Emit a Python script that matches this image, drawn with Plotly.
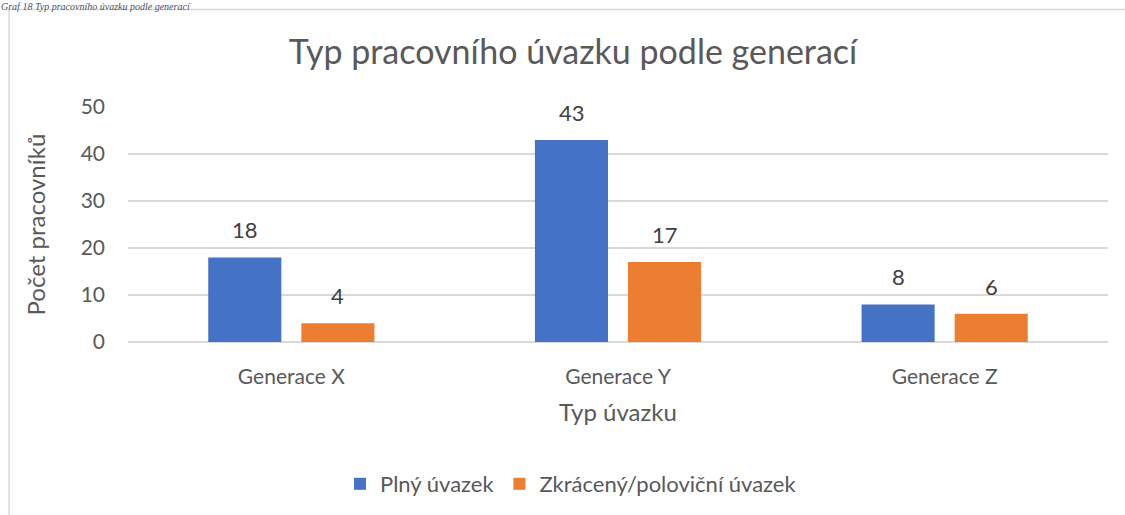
import plotly.graph_objects as go

categories = ["Generace X", "Generace Y", "Generace Z"]
full_time = [18, 43, 8]
part_time = [4, 17, 6]
series_names = ["Plný úvazek", "Zkrácený/poloviční úvazek"]
y_ticks = [0, 10, 20, 30, 40, 50]

BLUE = "#4472C4"
ORANGE = "#ED7D31"
TXT = "#595959"
FONT = "Lato"

W, H = 1125, 515
L, R, T, B = 128, 17, 107, 172
pw, ph = W - L - R, H - T - B

def px_x(x):
    return (x - L) / pw

def px_y(y):
    return (H - B - y) / ph

fig = go.Figure()
fig.add_trace(go.Bar(x=categories, y=full_time, name=series_names[0],
                     marker=dict(color=BLUE, line=dict(width=0))))
fig.add_trace(go.Bar(x=categories, y=part_time, name=series_names[1],
                     marker=dict(color=ORANGE, line=dict(width=0))))

annotations = []
for vals, shift in ((full_time, -46.5), (part_time, 46.5)):
    for c, v in zip(categories, vals):
        annotations.append(dict(x=c, y=v, xref="x", yref="y", text=str(v),
                                showarrow=False, xshift=shift, yshift=12,
                                yanchor="bottom",
                                font=dict(family=FONT, size=22, color="#404040")))

annotations.append(dict(xref="paper", yref="paper", x=0.5, y=px_y(413),
                        text="Typ úvazku", showarrow=False, yanchor="middle",
                        font=dict(family=FONT, size=24, color=TXT)))
annotations.append(dict(xref="paper", yref="paper", x=px_x(35), y=px_y(225),
                        text="Počet pracovníků", showarrow=False, textangle=-90,
                        xanchor="center", yanchor="middle",
                        font=dict(family=FONT, size=24, color=TXT)))
annotations.append(dict(xref="paper", yref="paper", x=px_x(0), y=px_y(0),
                        text="<i>Graf 18 Typ pracovního úvazku podle generací</i>",
                        showarrow=False, xanchor="left", yanchor="top",
                        borderpad=0,
                        font=dict(family="Liberation Serif", size=10, color="#44546A")))

fig.update_layout(
    width=W, height=H,
    margin=dict(l=L, r=R, t=T, b=B, pad=0),
    paper_bgcolor="white", plot_bgcolor="white",
    barmode="group", bargap=0.43, bargroupgap=0.215,
    title=dict(text="Typ pracovního úvazku podle generací",
               x=573 / W, xref="container", xanchor="center",
               y=1 - 52 / H, yref="container", yanchor="middle",
               font=dict(family=FONT, size=34, color=TXT)),
    font=dict(family=FONT, color=TXT),
    showlegend=True,
    legend=dict(orientation="h", x=px_x(571), xanchor="center", y=px_y(484),
                yanchor="middle", font=dict(family=FONT, size=22, color=TXT),
                itemwidth=30, traceorder="normal"),
    annotations=annotations,
    shapes=[dict(type="rect", xref="paper", yref="paper",
                 x0=px_x(9), x1=px_x(1135), y0=px_y(530), y1=px_y(9),
                 line=dict(color="#D9D9D9", width=1.5), layer="below")],
)
fig.update_xaxes(showgrid=False, showline=False, ticks="",
                 tickfont=dict(family=FONT, size=21, color=TXT),
                 ticklabelstandoff=20)
fig.update_yaxes(range=[0, 50], tickvals=y_ticks, showgrid=True,
                 gridcolor="#D9D9D9", gridwidth=1.5, zeroline=True,
                 zerolinecolor="#D9D9D9", zerolinewidth=1.5, showline=False,
                 ticks="", tickfont=dict(family=FONT, size=21, color=TXT),
                 ticklabelstandoff=22)

fig.write_html("out.html", config={"displayModeBar": False},
               post_script="document.body.style.margin='0';document.body.style.overflow='hidden';")
